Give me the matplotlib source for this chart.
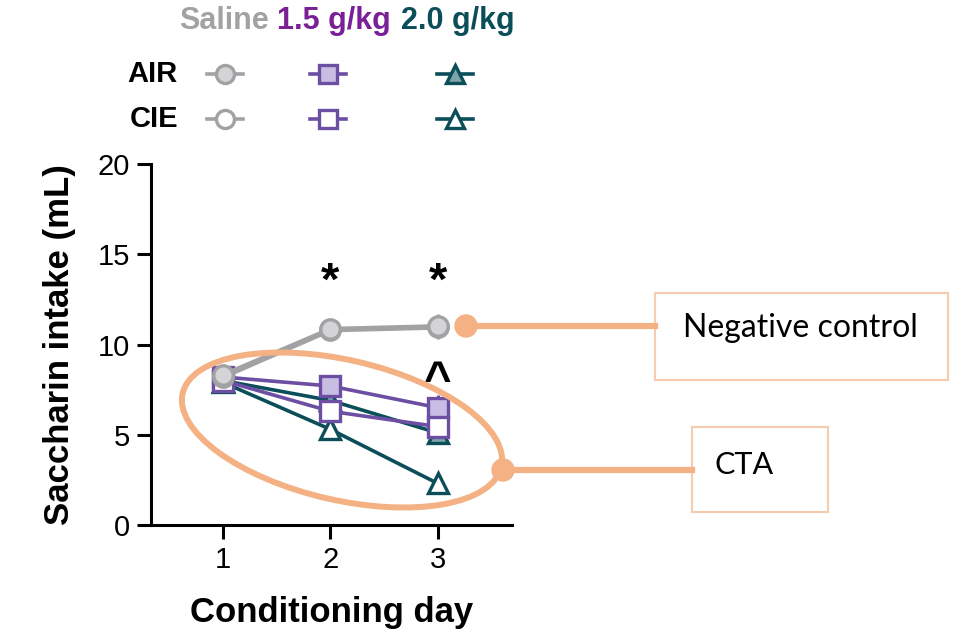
import matplotlib.pyplot as plt
from matplotlib.patches import Ellipse, Rectangle, Circle
from matplotlib.transforms import IdentityTransform
from matplotlib.lines import Line2D

plt.rcParams['font.family'] = ['Liberation Sans', 'DejaVu Sans']

# data
days = [1, 2, 3]
saline_air = [8.3, 10.85, 11.0]
saline_air_err = [0.4, 0.4, 0.7]
saline_cie = [8.2, 10.8, 10.95]
saline_cie_err = [0.3, 0.3, 0.5]
g15_air = [8.2, 7.7, 6.5]
g15_air_err = [0.4, 0.6, 0.7]
g15_cie = [8.0, 6.3, 5.45]
g15_cie_err = [0.3, 0.4, 0.5]
g20_air = [8.0, 6.9, 5.1]
g20_air_err = [0.3, 0.4, 0.6]
g20_cie = [7.9, 5.3, 2.3]
g20_cie_err = [0.3, 0.6, 0.3]

star_days = [2, 3]
star_y = 13.4
caret_day = 3
caret_y = 7.25

GRAY = '#a2a2a4'
GRAY_FACE = '#d4d4d6'
PURPLE = '#6c4ea3'
PURPLE_FACE = '#c8bde2'
PURPLE_TXT = '#7a1f96'
TEAL = '#0c4d5a'
TEAL_FACE = '#7ea3a8'
ORANGE = '#f4b183'
BOX_EDGE = '#f6cdb0'

fig = plt.figure(figsize=(9.58, 6.37), dpi=100)
H = 637
ax = fig.add_axes([151 / 958, 1 - 525 / H, (512 - 151) / 958, (525 - 164) / H])

series = [
    (g20_air, g20_air_err, TEAL, TEAL_FACE, '^', 3, 2.6),
    (g20_cie, g20_cie_err, TEAL, 'white', '^', 3, 2.6),
    (g15_air, g15_air_err, PURPLE, PURPLE_FACE, 's', 4, 2.6),
    (g15_cie, g15_cie_err, PURPLE, 'white', 's', 4, 2.6),
    (saline_cie, saline_cie_err, GRAY, 'white', 'o', 5, 3.4),
    (saline_air, saline_air_err, GRAY, GRAY_FACE, 'o', 5, 3.4),
]
for vals, err, col, face, mk, z, lw in series:
    ax.errorbar(days, vals, yerr=err, color=col, lw=lw, marker=mk, ms=14,
                mfc=face, mec=col, mew=2.4, elinewidth=2.2, capsize=0,
                zorder=z, clip_on=False)

for d in star_days:
    ax.text(d, star_y, '*', ha='center', va='center', fontsize=34,
            fontweight='bold')
ax.text(caret_day, caret_y, '^', ha='center', va='baseline', fontsize=34,
        fontweight='bold')

ax.set_xlim(0.33, 3.69)
ax.set_ylim(0, 20)
ax.set_xticks(days)
ax.set_yticks([0, 5, 10, 15, 20])
ax.tick_params(width=2.2, length=10, labelsize=21, pad=5)
for s in ['top', 'right']:
    ax.spines[s].set_visible(False)
for s in ['left', 'bottom']:
    ax.spines[s].set_linewidth(2.2)
ax.set_xlabel('Conditioning day', fontsize=25, fontweight='bold', labelpad=16)
ax.set_ylabel('Saccharin intake (mL)', fontsize=25, fontweight='bold',
              labelpad=16)

# legend block at the top
headers = [('Saline', GRAY, 224), ('1.5 g/kg', PURPLE_TXT, 334),
           ('2.0 g/kg', TEAL, 458)]
for txt, col, x in headers:
    fig.text(x / 958, 1 - 21 / H, txt, color=col, fontsize=22,
             fontweight='bold', ha='center', va='center')
rows = [('AIR', 74, [GRAY_FACE, PURPLE_FACE, TEAL_FACE]),
        ('CIE', 119, ['white', 'white', 'white'])]
leg_x = [225, 328, 455]
leg_col = [GRAY, PURPLE, TEAL]
leg_mk = ['o', 's', '^']
for label, yy, faces in rows:
    fig.text(178 / 958, 1 - yy / H, label, fontsize=21, fontweight='bold',
             ha='right', va='center')
    for x, col, mk, face in zip(leg_x, leg_col, leg_mk, faces):
        fig.add_artist(Line2D([(x - 18) / 958, (x + 18) / 958],
                              [1 - yy / H, 1 - yy / H],
                              transform=fig.transFigure, color=col, lw=2.6))
        fig.add_artist(Line2D([x / 958], [1 - yy / H],
                              transform=fig.transFigure, color=col, lw=0,
                              marker=mk, ms=13, mfc=face, mec=col, mew=2.4))

# annotations (pixel coordinates, origin at bottom-left)
pix = IdentityTransform()
fig.add_artist(Ellipse((342, H - 430), 327, 140, angle=-13, fill=False,
                       ec=ORANGE, lw=4.3, transform=pix, zorder=6))
fig.add_artist(Line2D([466, 655], [H - 326, H - 326], color=ORANGE, lw=4.5,
                      transform=pix))
fig.add_artist(Circle((466, H - 326), 11, color=ORANGE, transform=pix))
fig.add_artist(Line2D([503, 692], [H - 470, H - 470], color=ORANGE, lw=4.5,
                      transform=pix))
fig.add_artist(Circle((503, H - 470), 11, color=ORANGE, transform=pix))
fig.add_artist(Rectangle((655, H - 380), 293, 87, fill=False, ec=BOX_EDGE,
                         lw=1.5, transform=pix))
fig.add_artist(Rectangle((692, H - 512), 136, 85, fill=False, ec=BOX_EDGE,
                         lw=1.5, transform=pix))
fig.text(800 / 958, 1 - 328 / H, 'Negative control', fontsize=23,
         family='Lato', ha='center', va='center')
fig.text(744 / 958, 1 - 465 / H, 'CTA', fontsize=22, family='Lato',
         ha='center', va='center')

fig.savefig('out.png', dpi=100)
